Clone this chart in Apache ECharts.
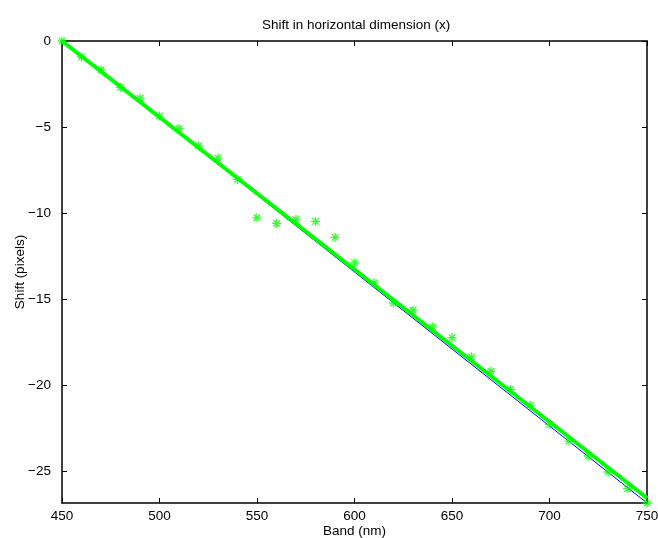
<!DOCTYPE html>
<html>
<head>
<meta charset="utf-8">
<script src="https://cdn.jsdelivr.net/npm/echarts@6/dist/echarts.min.js"></script>
<style>
  html, body { margin: 0; padding: 0; background: #fff; }
  #chart { width: 658px; height: 538px; }
</style>
</head>
<body>
<div id="chart"></div>
<script>
// measured shift per band
var bands = [450, 460, 470, 480, 490, 500, 510, 520, 530, 540, 550, 560, 570, 580, 590,
  600, 610, 620, 630, 640, 650, 660, 670, 680, 690, 700, 710, 720, 730, 740, 750];
var shifts = [0, -0.93, -1.67, -2.69, -3.33, -4.36, -5.08, -6.10, -6.80, -8.04, -10.27, -10.60,
  -10.37, -10.48, -11.41, -12.89, -14.05, -15.22, -15.64, -16.61, -17.23, -18.35, -19.19,
  -20.25, -21.16, -22.27, -23.24, -24.11, -25.04, -26.01, -26.84];
// fitted lines (end points)
var fitBands = [450, 750];
var fitGreen = [0, -26.55];
var fitBlue = [0, -26.84];
var yTicks = [0, -5, -10, -15, -20, -25];
var yMin = -26.84;

var font = 'Liberation Sans, Arial, Helvetica, sans-serif';
var fs = 13.5;
var star = 'path://M0,-5L0,5M-5,0L5,0M-3.6,-3.6L3.6,3.6M-3.6,3.6L3.6,-3.6';

function pairs(xs, ys) {
  return xs.map(function (x, i) { return [x, ys[i]]; });
}
function minusFmt(v) {
  return v < 0 ? '\u2212' + (-v) : String(v);
}

var myChart = echarts.init(document.getElementById('chart'), null, { renderer: 'canvas' });
var axisBase = {
  axisLine: { show: true, onZero: false, lineStyle: { color: '#000', width: 1.5 } },
  splitLine: { show: false }
};
var option = {
  animation: false,
  backgroundColor: '#fff',
  title: {
    text: 'Shift in horizontal dimension (x)',
    left: 257,
    top: 13,
    textStyle: { fontFamily: font, fontSize: fs, fontWeight: 'normal', color: '#000' }
  },
  grid: { left: 62, right: 11, top: 41, bottom: 35, containLabel: false, outerBoundsMode: 'none' },
  xAxis: [
    Object.assign({
      type: 'value', min: 450, max: 750, interval: 50, position: 'bottom',
      name: 'Band (nm)', nameLocation: 'middle', nameGap: 21, nameMoveOverlap: false,
      nameTextStyle: { fontFamily: font, fontSize: fs, color: '#000' },
      axisTick: { show: true, inside: true, length: 5, lineStyle: { color: '#000' } },
      axisLabel: { fontFamily: font, fontSize: fs, color: '#000', margin: 6 }
    }, axisBase),
    Object.assign({
      type: 'value', min: 450, max: 750, interval: 50, position: 'top',
      axisTick: { show: true, inside: true, length: 5, lineStyle: { color: '#000' } },
      axisLabel: { show: false }
    }, axisBase)
  ],
  yAxis: [
    Object.assign({
      type: 'value', min: yMin, max: 0, position: 'left',
      name: 'Shift (pixels)', nameLocation: 'middle', nameGap: 35, nameMoveOverlap: false,
      nameTextStyle: { fontFamily: font, fontSize: fs, color: '#000' },
      axisTick: { show: true, inside: true, length: 5, customValues: yTicks, lineStyle: { color: '#000' } },
      axisLabel: { fontFamily: font, fontSize: fs, color: '#000', margin: 11,
        customValues: yTicks, formatter: minusFmt }
    }, axisBase),
    Object.assign({
      type: 'value', min: yMin, max: 0, position: 'right',
      axisTick: { show: true, inside: true, length: 5, customValues: yTicks, lineStyle: { color: '#000' } },
      axisLabel: { show: false, customValues: yTicks }
    }, axisBase)
  ],
  series: [
    {
      type: 'line', data: pairs(fitBands, fitBlue), symbol: 'none', z: 2,
      lineStyle: { color: '#0000ff', width: 1 }
    },
    {
      type: 'line', data: pairs(fitBands, fitGreen), symbol: 'none', z: 3,
      lineStyle: { color: '#00ff00', width: 4 }
    },
    {
      type: 'scatter', data: pairs(bands, shifts), symbol: star, symbolSize: 9, z: 4,
      itemStyle: { color: 'rgba(0,0,0,0)', borderColor: '#00ff00', borderWidth: 1.3 }
    }
  ]
};
myChart.setOption(option);
window.addEventListener('resize', function () {
  myChart.resize();
});
</script>
</body>
</html>
